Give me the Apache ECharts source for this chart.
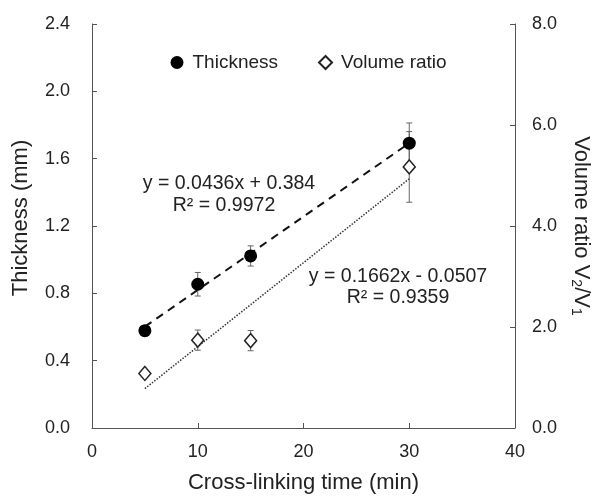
<!DOCTYPE html>
<html><head><meta charset="utf-8">
<script src="https://cdn.jsdelivr.net/npm/echarts@6/dist/echarts.min.js"></script>
<style>html,body{margin:0;padding:0;background:#fff}#c{width:592px;height:496px}</style>
</head><body><div id="c"></div>
<script>
var times = [5, 10, 15, 30];
var thickness = [0.578, 0.854, 1.022, 1.692];
var thicknessErr = [0.03, 0.07, 0.06, 0.12];
var volumeRatio = [1.08, 1.74, 1.73, 5.17];
var volumeErr = [0.05, 0.2, 0.2, 0.7];
var thickFit = [[5, 0.602], [30, 1.692]];
var volFit = [[5, 0.780], [30, 4.935]];
var leftTicks = ['0.0','0.4','0.8','1.2','1.6','2.0','2.4'];
var rightTicks = ['0.0','2.0','4.0','6.0','8.0'];
var xTicks = ['0','10','20','30','40'];

var FONT = '"Liberation Sans", Arial, sans-serif';
function pairs(v){ return times.map(function(t,i){ return [t, v[i]]; }); }
function errData(v,e){ return times.map(function(t,i){ return [t, v[i]-e[i], v[i]+e[i]]; }); }
function errSeries(v,e,yi){
  return {
    type:'custom', yAxisIndex: yi, z: 2, silent:true,
    data: errData(v,e),
    renderItem: function(params, api){
      var lo = api.coord([api.value(0), api.value(1)]);
      var hi = api.coord([api.value(0), api.value(2)]);
      var w = 3;
      var st = {stroke:'#666', lineWidth:1};
      return {type:'group', children:[
        {type:'line', shape:{x1:lo[0],y1:lo[1],x2:hi[0],y2:hi[1]}, style:st},
        {type:'line', shape:{x1:lo[0]-w,y1:lo[1],x2:lo[0]+w,y2:lo[1]}, style:st},
        {type:'line', shape:{x1:hi[0]-w,y1:hi[1],x2:hi[0]+w,y2:hi[1]}, style:st}
      ]};
    }
  };
}
var chart = echarts.init(document.getElementById('c'));
var txt = {fontFamily: FONT, fontSize: 18, color:'#222'};
var tstyle = {fontFamily:FONT, fontSize:22, color:'#222'};
chart.setOption({
  animation:false,
  textStyle:{fontFamily:FONT},
  grid:{left:92, right:77, top:24, bottom:68, containLabel:false, outerBoundsMode:'none'},
  legend:{
    top: 53, left: 170.5, padding:0, itemGap: 40, itemWidth: 13, itemHeight: 13,
    textStyle:{fontFamily:FONT, fontSize:19, color:'#222', padding:[0,0,0,4]},
    data:[{name:'Thickness', icon:'circle'},{name:'Volume ratio', icon:'diamond'}]
  },
  xAxis:{
    type:'value', min:0, max:40, interval:10,
    axisLine:{lineStyle:{color:'#555', width:1}},
    axisTick:{inside:true, length:5, lineStyle:{color:'#555'}},
    splitLine:{show:false},
    axisLabel:Object.assign({margin:15, formatter:function(v,i){return xTicks[i];}}, txt),
    name:'Cross-linking time (min)', nameLocation:'middle', nameGap:44,
    nameTextStyle:tstyle
  },
  yAxis:[{
    type:'value', min:0, max:2.4, interval:0.4,
    axisLine:{show:true, lineStyle:{color:'#555'}},
    axisTick:{show:true, inside:true, length:5, lineStyle:{color:'#555'}},
    splitLine:{show:false},
    axisLabel:Object.assign({margin:22, formatter:function(v,i){return leftTicks[i];}}, txt),
    name:'Thickness (mm)', nameLocation:'middle', nameGap:60, nameRotate:90,
    nameTextStyle:Object.assign({padding:[0,0,0,16]}, tstyle)
  },{
    type:'value', min:0, max:8, interval:2, position:'right',
    axisLine:{show:true, lineStyle:{color:'#555'}},
    axisTick:{show:true, inside:true, length:5, lineStyle:{color:'#555'}},
    splitLine:{show:false},
    axisLabel:Object.assign({margin:17, formatter:function(v,i){return rightTicks[i];}}, txt),
    name:'{a|Volume ratio V}{s|2}{a|/V}{s|1}', nameLocation:'middle', nameGap:54, nameRotate:-90,
    nameTextStyle:{fontFamily:FONT, fontSize:22, color:'#222',
      rich:{a:{fontFamily:FONT, fontSize:22, color:'#222'}, s:{fontFamily:FONT, fontSize:14, color:'#222', verticalAlign:'bottom', padding:[10,0,0,0]}}}
  }],
  series:[
    {type:'line', yAxisIndex:0, data:thickFit, symbol:'none', silent:true, z:1,
     lineStyle:{color:'#111', width:2, type:[8,6]}},
    {type:'line', yAxisIndex:1, data:volFit, symbol:'none', silent:true, z:1,
     lineStyle:{color:'#333', width:1.5, type:[1.5,1.5]}},
    errSeries(thickness, thicknessErr, 0),
    errSeries(volumeRatio, volumeErr, 1),
    {name:'Thickness', type:'scatter', yAxisIndex:0, data:pairs(thickness), symbol:'circle', symbolSize:13, z:3,
     itemStyle:{color:'#000', opacity:1}},
    {name:'Volume ratio', type:'scatter', yAxisIndex:1, data:pairs(volumeRatio), symbol:'diamond', symbolSize:[12,14], z:3,
     itemStyle:{color:'#fff', borderColor:'#222', borderWidth:1.5, opacity:1}}
  ],
  graphic:[
    {type:'text', x:229, y:184, style:{text:'y = 0.0436x + 0.384', fill:'#222', font:'19.5px '+FONT, align:'center', verticalAlign:'middle'}},
    {type:'text', x:224, y:206, style:{text:'R² = 0.9972', fill:'#222', font:'19.5px '+FONT, align:'center', verticalAlign:'middle'}},
    {type:'text', x:398, y:277, style:{text:'y = 0.1662x - 0.0507', fill:'#222', font:'19.5px '+FONT, align:'center', verticalAlign:'middle'}},
    {type:'text', x:398, y:298, style:{text:'R² = 0.9359', fill:'#222', font:'19.5px '+FONT, align:'center', verticalAlign:'middle'}}
  ]
});
</script></body></html>
